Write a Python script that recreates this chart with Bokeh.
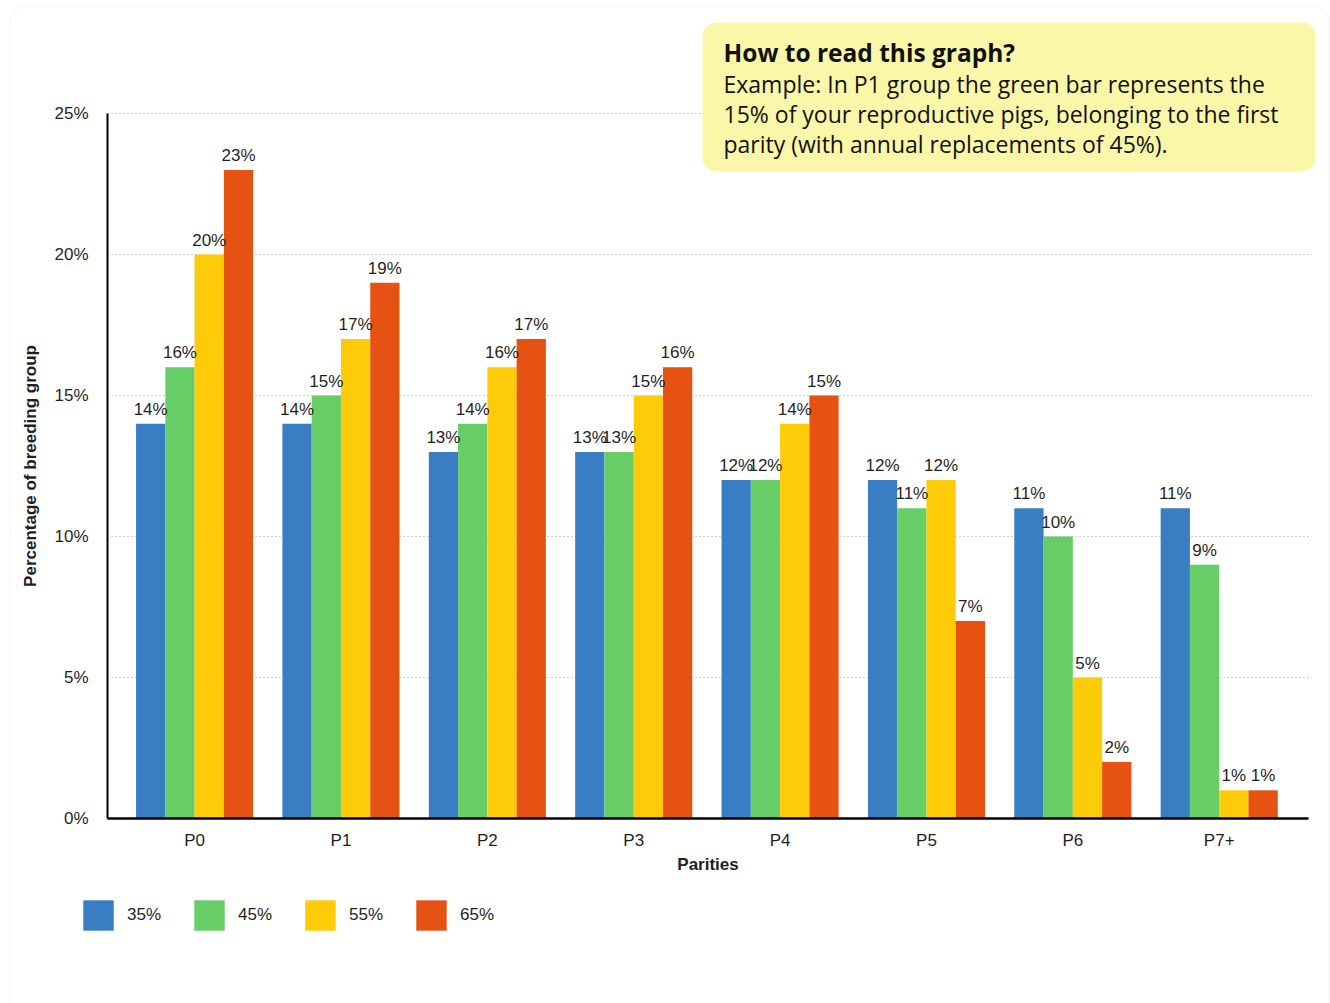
from bokeh.plotting import figure
from bokeh.models import (ColumnDataSource, Range1d, FixedTicker, Label, BoxAnnotation,
                          Legend, LegendItem, LabelSet, LinearAxis, Grid)
from bokeh.core.properties import value
from bokeh.embed import file_html
from bokeh.resources import INLINE
import math

# Parity groups and share of breeding herd (%) per annual replacement rate
parities = ["P0", "P1", "P2", "P3", "P4", "P5", "P6", "P7+"]
replacement_rates = ["35%", "45%", "55%", "65%"]
share_35 = [14, 14, 13, 13, 12, 12, 11, 11]
share_45 = [16, 15, 14, 13, 12, 11, 10, 9]
share_55 = [20, 17, 16, 15, 14, 12, 5, 1]
share_65 = [23, 19, 17, 16, 15, 7, 2, 1]
y_ticks = [0, 5, 10, 15, 20, 25]

series = [share_35, share_45, share_55, share_65]
colors = ["#397DC3", "#66CD67", "#FDCB08", "#E65212"]
offsets = [-0.3, -0.1, 0.1, 0.3]
bar_w = 0.2
FONT = "Liberation Sans"
TXT = "17px"

W, H = 1330, 1003
# plotting area (pixels) and the data extent it shows
FL, FR, FT, FB = 107, 1308, 113, 818
X0, X1 = -0.595, 7.61
Y0, Y1 = 0, 25
kx = (X1 - X0) / (FR - FL)
ky = (Y1 - Y0) / (FB - FT)


def px_x(px):
    return X0 + (px - FL) * kx


def px_y(py):
    return Y0 + (FB - py) * ky


p = figure(width=W, height=H, output_backend="svg", toolbar_location=None,
           x_range=Range1d(px_x(0), px_x(W)), y_range=Range1d(px_y(H), px_y(0)),
           x_axis_type=None, y_axis_type=None,
           min_border=0, min_border_left=0, min_border_right=0,
           min_border_top=0, min_border_bottom=0,
           background_fill_color="white", border_fill_color="white",
           outline_line_color=None)

# outer card
p.add_layout(BoxAnnotation(left=px_x(9.5), right=px_x(1329), top=px_y(6), bottom=px_y(1030),
                           fill_color=None, line_color="#E4E4E0", line_width=1.5,
                           border_radius=16, level="underlay"))

# axes pinned to the zero lines of the data area
xaxis = LinearAxis(fixed_location=Y0, bounds=(X0, X1),
                   ticker=FixedTicker(ticks=list(range(len(parities)))),
                   major_label_overrides={i: lab for i, lab in enumerate(parities)})
yaxis = LinearAxis(fixed_location=X0, bounds=(Y0, Y1),
                   ticker=FixedTicker(ticks=y_ticks),
                   major_label_overrides={t: f"{t}%" for t in y_ticks})
for ax in (xaxis, yaxis):
    ax.major_tick_line_color = None
    ax.minor_tick_line_color = None
    ax.axis_line_color = "black"
    ax.major_label_text_font = FONT
    ax.major_label_text_font_size = TXT
    ax.major_label_text_color = "#1F1F1F"
xaxis.axis_line_width = 2.5
yaxis.axis_line_width = 2
xaxis.major_label_standoff = 6
yaxis.major_label_standoff = 13
p.add_layout(xaxis, "below")
p.add_layout(yaxis, "left")

ygrid = Grid(dimension=1, ticker=FixedTicker(ticks=y_ticks[1:]), bounds=(Y0, Y1),
             cross_bounds=(X0, X1),
             grid_line_color="#A0A0A0", grid_line_dash="1 3", grid_line_width=1)
p.add_layout(ygrid, "center")

items = []
idx = list(range(len(parities)))
for s, vals, col, off in zip(replacement_rates, series, colors, offsets):
    src = ColumnDataSource(dict(x=[i + off for i in idx], top=vals,
                                lab=[f"{v}%" for v in vals]))
    r = p.vbar(x="x", top="top", width=bar_w, bottom=0, source=src,
               fill_color=col, line_color=None)
    p.add_layout(LabelSet(x="x", y="top", text="lab", source=src,
                          text_align="center", text_baseline="bottom", y_offset=5,
                          text_font=value(FONT), text_font_size=value(TXT),
                          text_color="#1F1F1F"))
    items.append(LegendItem(label=s, renderers=[r]))

# axis titles
p.add_layout(Label(x=px_x(30), y=(Y0 + Y1) / 2, text="Percentage of breeding group",
                   angle=math.pi / 2, text_align="center", text_baseline="middle",
                   text_font=FONT, text_font_size="17px",
                   text_font_style="bold", text_color="#1F1F1F"))
p.add_layout(Label(x=(X0 + X1) / 2, y=px_y(864), text="Parities",
                   text_align="center", text_baseline="middle",
                   text_font=FONT, text_font_size="17px",
                   text_font_style="bold", text_color="#1F1F1F"))

legend = Legend(items=items, orientation="horizontal", location=(79, H - 934),
                glyph_width=38, glyph_height=38, label_standoff=10, spacing=29,
                padding=0, margin=0, border_line_color=None, background_fill_alpha=0,
                label_text_font=FONT, label_text_font_size=TXT,
                label_text_color="#1F1F1F")
p.add_layout(legend, "center")

# reading guide box
p.add_layout(BoxAnnotation(left=px_x(702), right=px_x(1315), top=px_y(22), bottom=px_y(171),
                           fill_color="#FAF8A8", fill_alpha=1, line_color=None,
                           border_radius=14, level="overlay"))
p.add_layout(Label(x=px_x(723), y=px_y(52), text="How to read this graph?",
                   text_font="Open Sans", text_font_size="24.5px", text_font_style="bold",
                   text_baseline="middle", text_color="#111111", level="overlay"))
guide = ["Example: In P1 group the green bar represents the",
         "15% of your reproductive pigs, belonging to the first",
         "parity (with annual replacements of 45%)."]
for k, line in enumerate(guide):
    p.add_layout(Label(x=px_x(723), y=px_y(83 + 30 * k), text=line,
                       text_font="Open Sans", text_font_size="23px",
                       text_baseline="middle", text_color="#111111", level="overlay"))

open("out.html", "w").write(file_html(p, INLINE))
